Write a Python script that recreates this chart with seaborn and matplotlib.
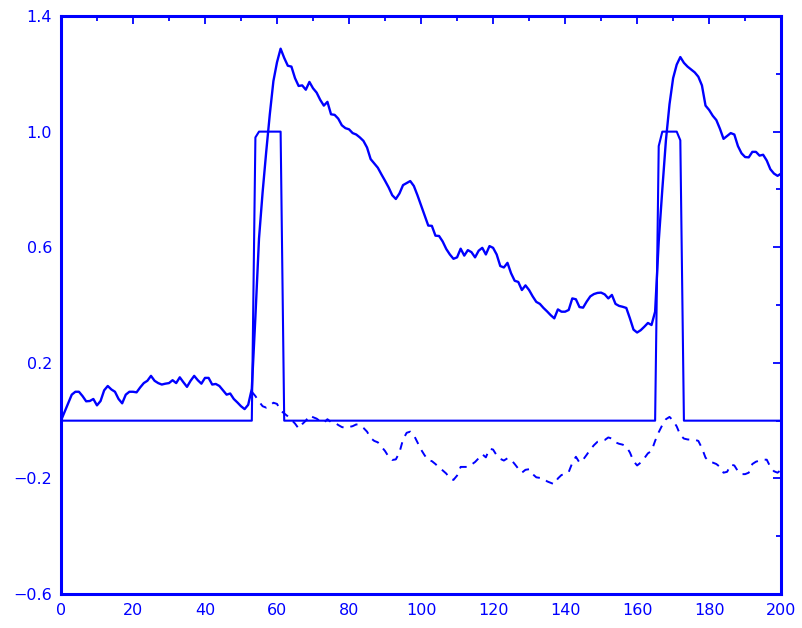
import numpy as np
import pandas as pd
import matplotlib
matplotlib.use("Agg")
import matplotlib.pyplot as plt
import seaborn as sns
from matplotlib.ticker import MultipleLocator, FixedLocator

sns.set_style("white")
plt.rcParams['font.family'] = ['DejaVu Sans']
plt.rcParams['lines.scale_dashes'] = False

BLUE = '#0000ff'

# sample positions 0..200
x_vals = list(range(201))

# solid response curve
response = [
    0.0, 0.03, 0.06, 0.09, 0.10, 0.10, 0.085, 0.067, 0.068, 0.075,
    0.053, 0.068, 0.105, 0.12, 0.108, 0.10, 0.075, 0.06, 0.09, 0.10,
    0.10, 0.098, 0.115, 0.13, 0.138, 0.155, 0.138, 0.13, 0.125, 0.128,
    0.13, 0.14, 0.13, 0.15, 0.133, 0.117, 0.138, 0.155, 0.14, 0.128,
    0.148, 0.148, 0.125, 0.127, 0.12, 0.105, 0.09, 0.094, 0.075, 0.063,
    0.05, 0.04, 0.055, 0.11, 0.36, 0.63, 0.79, 0.93, 1.06, 1.175,
    1.24, 1.287, 1.255, 1.228, 1.225, 1.185, 1.158, 1.16, 1.145, 1.172,
    1.15, 1.135, 1.11, 1.09, 1.103, 1.06, 1.058, 1.045, 1.022, 1.012,
    1.008, 0.995, 0.99, 0.98, 0.968, 0.945, 0.905, 0.89, 0.875, 0.852,
    0.83, 0.807, 0.78, 0.767, 0.786, 0.815, 0.822, 0.829, 0.812, 0.78,
    0.745, 0.711, 0.675, 0.674, 0.64, 0.639, 0.62, 0.594, 0.575, 0.56,
    0.565, 0.595, 0.571, 0.59, 0.583, 0.565, 0.588, 0.598, 0.575, 0.604,
    0.598, 0.575, 0.535, 0.53, 0.546, 0.51, 0.484, 0.48, 0.452, 0.468,
    0.452, 0.43, 0.411, 0.404, 0.39, 0.378, 0.365, 0.354, 0.385, 0.377,
    0.377, 0.383, 0.423, 0.42, 0.393, 0.391, 0.412, 0.43, 0.438, 0.442,
    0.443, 0.437, 0.423, 0.435, 0.404, 0.397, 0.394, 0.39, 0.354, 0.315,
    0.305, 0.313, 0.325, 0.338, 0.331, 0.377, 0.62, 0.80, 0.97, 1.095,
    1.185, 1.232, 1.258, 1.238, 1.225, 1.215, 1.205, 1.19, 1.16, 1.09,
    1.075, 1.055, 1.04, 1.01, 0.975, 0.985, 0.995, 0.99, 0.95, 0.925,
    0.912, 0.911, 0.93, 0.93, 0.917, 0.92, 0.90, 0.87, 0.855, 0.847,
    0.855,
]

# input pulses (zero elsewhere)
pulse = [0.0] * 201
for i in range(55, 62):
    pulse[i] = 1.0
pulse[54] = 0.98
for i in range(167, 172):
    pulse[i] = 1.0
pulse[166] = 0.95
pulse[172] = 0.97

# dashed error curve, from x=53 on
err_x = list(range(53, 201))
err = [
    0.10, 0.085, 0.066, 0.05, 0.045, 0.052, 0.062, 0.058, 0.035, 0.025,
    0.015, 0.003, -0.01, -0.027, -0.012, 0.0, 0.018, 0.012, 0.007, -0.002,
    -0.007, 0.005, -0.005, -0.006, -0.015, -0.022, -0.025, -0.022, -0.019, -0.013,
    -0.015, -0.025, -0.038, -0.06, -0.07, -0.075, -0.09, -0.105, -0.125, -0.136,
    -0.134, -0.11, -0.065, -0.042, -0.038, -0.05, -0.075, -0.10, -0.12, -0.137,
    -0.14, -0.15, -0.162, -0.172, -0.183, -0.20, -0.205, -0.19, -0.16, -0.16,
    -0.16, -0.152, -0.143, -0.13, -0.116, -0.127, -0.097, -0.10, -0.12, -0.132,
    -0.138, -0.13, -0.135, -0.15, -0.166, -0.18, -0.17, -0.168, -0.185, -0.196,
    -0.198, -0.20, -0.21, -0.215, -0.22, -0.20, -0.188, -0.185, -0.178, -0.146,
    -0.125, -0.145, -0.135, -0.118, -0.10, -0.085, -0.073, -0.07, -0.067, -0.058,
    -0.062, -0.075, -0.08, -0.083, -0.09, -0.11, -0.14, -0.155, -0.145, -0.13,
    -0.113, -0.105, -0.07, -0.04, -0.015, 0.005, 0.013, 0.0, -0.02, -0.05,
    -0.062, -0.065, -0.066, -0.066, -0.07, -0.095, -0.128, -0.142, -0.145, -0.15,
    -0.16, -0.18, -0.177, -0.152, -0.155, -0.175, -0.185, -0.185, -0.18, -0.15,
    -0.142, -0.138, -0.135, -0.135, -0.16, -0.175, -0.18, -0.17,
]

# axis ticks
y_major = [-0.6, -0.2, 0.2, 0.6, 1.0, 1.4]
y_minor = [-0.4, 0.0, 0.4, 0.8, 1.2]
y_labels = ['\u22120.6', '\u22120.2', '0.2', '0.6', '1.0', '1.4']

df = pd.DataFrame({'x': x_vals, 'response': response, 'pulse': pulse})
df_err = pd.DataFrame({'x': err_x, 'err': err})

fig = plt.figure(figsize=(8.02, 6.28), dpi=100)
ax = fig.add_axes([0.076, 0.054, 0.898, 0.9205])

sns.lineplot(data=df, x='x', y='pulse', ax=ax, color=BLUE, lw=1.5)
sns.lineplot(data=df, x='x', y='response', ax=ax, color=BLUE, lw=1.7)
sns.lineplot(data=df_err, x='x', y='err', ax=ax, color=BLUE, lw=1.4,
             linestyle=(0, (5.5, 5)))

ax.set_xlim(0, 200)
ax.set_ylim(-0.6, 1.4)
ax.set_xlabel('')
ax.set_ylabel('')

ax.xaxis.set_major_locator(MultipleLocator(20))
ax.xaxis.set_minor_locator(MultipleLocator(10))
ax.set_yticks(y_major)
ax.set_yticklabels(y_labels)
ax.yaxis.set_minor_locator(FixedLocator(y_minor))

for s in ax.spines.values():
    s.set_color(BLUE)
    s.set_linewidth(2.2)

ax.tick_params(which='both', direction='in', top=True, right=True,
               colors=BLUE, width=1.3, labelsize=11.5)
ax.tick_params(which='major', length=5.5)
ax.tick_params(which='minor', length=3.5)
ax.tick_params(axis='x', which='major', pad=6.5)
ax.tick_params(axis='y', which='major', pad=6.5)

fig.savefig('out.png', dpi=100)
